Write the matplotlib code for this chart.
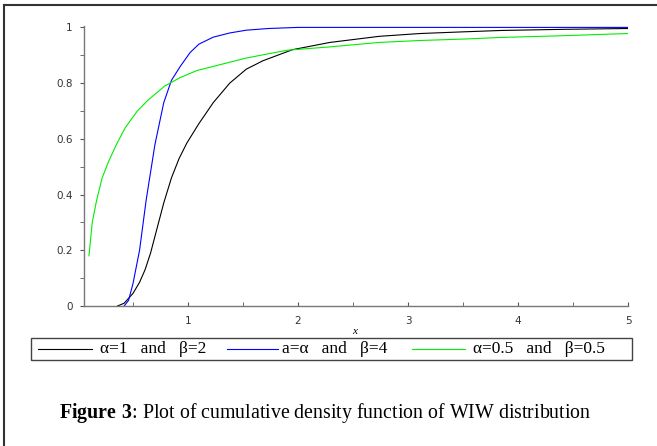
import matplotlib
matplotlib.use("Agg")
import matplotlib.pyplot as plt
from matplotlib.lines import Line2D
from matplotlib.patches import Rectangle

plt.rcParams["mathtext.fontset"] = "custom"
plt.rcParams["mathtext.rm"] = "Liberation Serif"
plt.rcParams["mathtext.bf"] = "Liberation Serif:bold"

# curve values
x_black = [0.36, 0.42, 0.50, 0.56, 0.61, 0.66, 0.72, 0.78, 0.85, 0.92, 0.99, 1.1, 1.23, 1.38, 1.53, 1.68, 1.95, 2.29, 2.74, 3.11, 3.5, 3.85, 4.4, 5.0]
y_black = [0.0, 0.01, 0.045, 0.085, 0.13, 0.19, 0.28, 0.37, 0.46, 0.53, 0.585, 0.655, 0.73, 0.80, 0.85, 0.88, 0.92, 0.946, 0.968, 0.978, 0.984, 0.989, 0.993, 0.996]

x_blue = [0.42, 0.46, 0.50, 0.56, 0.62, 0.70, 0.78, 0.85, 0.93, 1.02, 1.10, 1.23, 1.38, 1.53, 1.73, 2.0, 3.0, 4.0, 5.0]
y_blue = [0.0, 0.02, 0.08, 0.2, 0.38, 0.58, 0.73, 0.81, 0.86, 0.91, 0.94, 0.965, 0.98, 0.99, 0.996, 1.0, 1.0, 1.0, 1.0]

x_green = [0.1, 0.13, 0.17, 0.22, 0.28, 0.35, 0.43, 0.54, 0.64, 0.79, 0.93, 1.08, 1.23, 1.53, 1.9, 2.29, 2.74, 3.11, 3.5, 3.85, 4.4, 5.0]
y_green = [0.18, 0.3, 0.38, 0.46, 0.52, 0.58, 0.64, 0.7, 0.74, 0.79, 0.82, 0.845, 0.86, 0.89, 0.918, 0.93, 0.946, 0.953, 0.958, 0.964, 0.97, 0.978]

labels = ["\u03b1=1   and   \u03b2=2", "a=\u03b1   and   \u03b2=4", "\u03b1=0.5   and   \u03b2=0.5"]
colors = ["black", "blue", "#00ee00"]

W, H = 657, 446
fig = plt.figure(figsize=(W / 100, H / 100), dpi=100)
ax = fig.add_axes([84/W, 1 - 306/H, (628 - 84)/W, (306 - 26)/H])

ax.plot(x_black, y_black, color=colors[0], lw=0.8)
ax.plot(x_blue, y_blue, color=colors[1], lw=0.8)
ax.plot(x_green, y_green, color=colors[2], lw=0.8)

ax.set_xlim(0.055, 5.0)
ax.set_ylim(0, 1.005)
for s in ["top", "right"]:
    ax.spines[s].set_visible(False)
for s in ["left", "bottom"]:
    ax.spines[s].set_color("#777777")
    ax.spines[s].set_linewidth(1.0)

ax.set_xticks([1, 2, 3, 4, 5])
ax.set_xticks([0.5, 1.5, 2.5, 3.5, 4.5], minor=True)
ax.set_yticks([0, 0.2, 0.4, 0.6, 0.8, 1])
ax.set_yticklabels(["0", "0.2", "0.4", "0.6", "0.8", "1"])
ax.set_yticks([0.1, 0.3, 0.5, 0.7, 0.9], minor=True)
ax.tick_params(which="both", colors="#555555", labelcolor="#333333", labelsize=7.5)
ax.tick_params(axis="x", which="both", direction="in", length=3, pad=7)
ax.tick_params(axis="y", which="both", direction="out", length=3, pad=5)

fig.text(355/W, 1 - 332/H, "x", ha="center", va="center",
         fontsize=8, style="italic", family="Liberation Serif")

# legend box drawn by hand to match the spacing of the original
fig.add_artist(Rectangle((31/W, 1 - 360/H), (632 - 31)/W, 22/H, transform=fig.transFigure,
                         fill=False, edgecolor="#444444", lw=1.0))
seg_x = [(38, 92), (227, 278), (412, 465)]
txt_x = [100, 282, 473]
ly = 1 - 349/H
for (a, b), tx, lab, c in zip(seg_x, txt_x, labels, colors):
    fig.add_artist(Line2D([a/W, b/W], [ly, ly], color=c, lw=0.8, transform=fig.transFigure))
    fig.text(tx/W, ly, lab, ha="left", va="center", fontsize=12.5, family="Liberation Serif")

fig.text(325/W, 1 - 413/H, r"$\mathbf{Figure\ 3}$: Plot of cumulative density function of WIW distribution",
         ha="center", va="center", fontsize=14.3, family="Liberation Serif")

# page border (top and left only)
fig.add_artist(Line2D([4/W, 1], [1 - 5/H, 1 - 5/H], color="#333333", lw=1.5, transform=fig.transFigure))
fig.add_artist(Line2D([4/W, 4/W], [0, 1 - 5/H], color="#333333", lw=1.5, transform=fig.transFigure))

fig.savefig("out.png", dpi=100)
